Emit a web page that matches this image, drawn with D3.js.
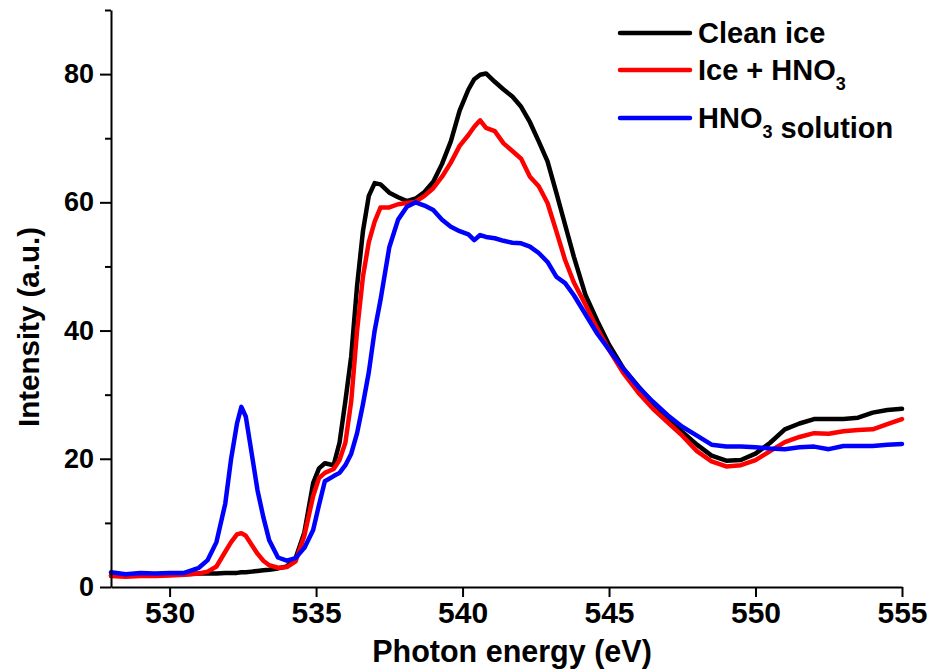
<!DOCTYPE html>
<html>
<head>
<meta charset="utf-8">
<script src="https://cdn.jsdelivr.net/npm/d3@7"></script>
<style>
  html, body { margin: 0; padding: 0; background: #fff; }
  svg text { font-family: "Liberation Sans", Arial, Helvetica, sans-serif; font-weight: bold; fill: #000; }
</style>
</head>
<body>
<svg id="chart" width="929" height="672"></svg>
<script>
// Photon energy grid (eV), shared by all three spectra
const energy = [
  528, 528.5, 529, 529.5, 530, 530.5, 531, 531.3, 531.6, 531.9,
  532.1, 532.3, 532.45, 532.6, 532.8, 533.0, 533.2, 533.4, 533.7, 534.0,
  534.3, 534.6, 534.9, 535.1, 535.3, 535.6, 535.8, 536.0, 536.2, 536.4,
  536.6, 536.8, 537.0, 537.2, 537.5, 537.8, 538.1, 538.4, 538.7, 539.0,
  539.3, 539.6, 539.9, 540.2, 540.4, 540.6, 540.8, 541.1, 541.4, 541.7,
  542.0, 542.3, 542.6, 542.9, 543.2, 543.5, 543.8, 544.2, 544.6, 545.0,
  545.5, 546.0, 546.5, 547.0, 547.5, 548.0, 548.5, 549.0, 549.5, 550.0,
  550.5, 551.0, 551.5, 552.0, 552.5, 553.0, 553.5, 554.0, 554.5, 555.0
];

const cleanIce = [
  1.8, 1.8, 1.9, 1.9, 2.0, 2.0, 2.1, 2.1, 2.1, 2.2,
  2.2, 2.2, 2.3, 2.3, 2.4, 2.5, 2.6, 2.7, 2.9, 3.2,
  4.5, 8.5, 16.2, 18.5, 19.3, 19.0, 22.5, 29, 36, 47,
  55.5, 61, 63, 62.8, 61.5, 60.8, 60.2, 60.6, 61.6, 63.2,
  66, 69.5, 74.3, 77.6, 79.2, 79.9, 80.1, 78.8, 77.6, 76.5,
  74.9, 72.5, 69.5, 66.4, 61.5, 56.5, 51.5, 45.5, 41.5, 37.8,
  34, 31.3, 28.7, 26.3, 24.2, 22.2, 20.5, 19.7, 19.8, 20.8,
  22.5, 24.6, 25.5, 26.2, 26.2, 26.2, 26.4, 27.2, 27.6, 27.8
];

const iceHNO3 = [
  1.7, 1.6, 1.7, 1.7, 1.8, 1.9, 2.1, 2.4, 3.2, 5.5,
  7.0, 8.2, 8.4, 8.0, 6.6, 5.2, 4.1, 3.4, 3.0, 3.1,
  4.0, 8.0, 14.2, 17, 17.8, 18.4, 19.8, 22.5, 29, 40,
  48.4, 53.8, 57, 59.2, 59.2, 59.7, 59.9, 60.1, 61, 62.2,
  64, 66.2, 68.8, 70.5, 71.8, 72.8, 71.6, 71.1, 69.2, 68,
  66.8, 64, 62.5, 59.9, 55.5, 51, 47.5, 44, 40.3, 37,
  33.3, 30.3, 27.8, 25.7, 23.6, 21.2, 19.6, 18.8, 19.0, 19.8,
  21.2, 22.6, 23.4, 24.0, 23.9, 24.3, 24.5, 24.6, 25.4, 26.2
];

const hno3Solution = [
  2.3, 2.0, 2.2, 2.1, 2.2, 2.2, 3.0, 4.2, 7.0, 13,
  20, 25.5, 28.1, 26.6, 20.9, 15.1, 10.9, 7.3, 4.6, 4.1,
  4.5, 6.1, 8.9, 12.8, 16.5, 17.3, 17.8, 19.0, 20.8, 24,
  28.5, 33.5, 40, 44.8, 53, 57.3, 59.3, 60.0, 59.5, 58.8,
  57.3, 56.2, 55.5, 55.0, 54.1, 54.9, 54.6, 54.4, 54.0, 53.7,
  53.6, 53.1, 52.1, 50.7, 48.4, 47.4, 45.5, 42.5, 39.5, 37,
  34, 31.2, 28.9, 26.8, 25, 23.6, 22.2, 21.9, 21.9, 21.8,
  21.6, 21.5, 21.8, 21.9, 21.5, 22.0, 22.0, 22.0, 22.2, 22.3
];

const xTicks = [530, 535, 540, 545, 550, 555];
const yMajorTicks = [0, 20, 40, 60, 80];
const yMinorTicks = [10, 30, 50, 70, 90];

// Series order, colours and legend labels (label parts: [text, isSubscript])
const series = [
  { name: "Clean ice", values: cleanIce, color: "#000000", label: [["Clean ice", false]] },
  { name: "Ice + HNO3", values: iceHNO3, color: "#ff0000", label: [["Ice + HNO", false], ["3", true]] },
  { name: "HNO3 solution", values: hno3Solution, color: "#0000ff", label: [["HNO", false], ["3", true], [" solution", false]] }
];

const svg = d3.select("#chart");

const x = d3.scaleLinear().domain([528, 555]).range([111, 902]);
const y = d3.scaleLinear().domain([0, 90]).range([587, 10]);

// Spectra
const line = d3.line()
  .x((d, i) => x(energy[i]))
  .y(d => y(d));

svg.append("g")
  .selectAll("path")
  .data(series)
  .join("path")
  .attr("d", d => line(d.values))
  .attr("fill", "none")
  .attr("stroke", d => d.color)
  .attr("stroke-width", 4.5)
  .attr("stroke-linejoin", "round")
  .attr("stroke-linecap", "round");

// Bottom axis
const xAxis = svg.append("g")
  .attr("transform", "translate(0,587)")
  .call(d3.axisBottom(x).tickValues(xTicks).tickSize(10).tickSizeOuter(0).tickPadding(5));
xAxis.select(".domain").attr("stroke-width", 2);
xAxis.selectAll(".tick line").attr("stroke-width", 2);
xAxis.selectAll(".tick text")
  .attr("font-size", 30)
  .attr("font-family", null);

// Left axis: major ticks with labels, minor ticks without
const yAxis = svg.append("g")
  .attr("transform", "translate(111,0)")
  .call(d3.axisLeft(y).tickValues(yMajorTicks).tickSize(11).tickSizeOuter(0).tickPadding(6));
yAxis.select(".domain").attr("stroke-width", 2);
yAxis.selectAll(".tick line").attr("stroke-width", 2);
yAxis.selectAll(".tick text")
  .attr("font-size", 27)
  .attr("font-family", null);

const yMinor = svg.append("g")
  .attr("transform", "translate(111,0)")
  .call(d3.axisLeft(y).tickValues(yMinorTicks).tickSize(6).tickSizeOuter(0).tickFormat(""));
yMinor.select(".domain").remove();
yMinor.selectAll(".tick line").attr("stroke-width", 2);

// Axis titles
svg.append("text")
  .attr("x", 512)
  .attr("y", 662)
  .attr("text-anchor", "middle")
  .attr("font-size", 30.5)
  .text("Photon energy (eV)");

svg.append("text")
  .attr("transform", "translate(39,327) rotate(-90)")
  .attr("text-anchor", "middle")
  .attr("font-size", 29.5)
  .text("Intensity (a.u.)");

// Legend
const legendRows = [33, 70, 118];
const legend = svg.append("g");
series.forEach((s, i) => {
  const ly = legendRows[i];
  legend.append("line")
    .attr("x1", 620).attr("x2", 690)
    .attr("y1", ly).attr("y2", ly)
    .attr("stroke", s.color)
    .attr("stroke-width", 4.5)
    .attr("stroke-linecap", "round");
  const t = legend.append("text")
    .attr("x", 698)
    .attr("y", ly + 10)
    .attr("font-size", 29);
  s.label.forEach(([txt, sub]) => {
    t.append("tspan")
      .attr("font-size", sub ? 18 : 29)
      .attr("dy", sub ? 10 : 0)
      .text(txt);
    if (sub) t.append("tspan").attr("dy", -10).text("");
  });
});
</script>
</body>
</html>
